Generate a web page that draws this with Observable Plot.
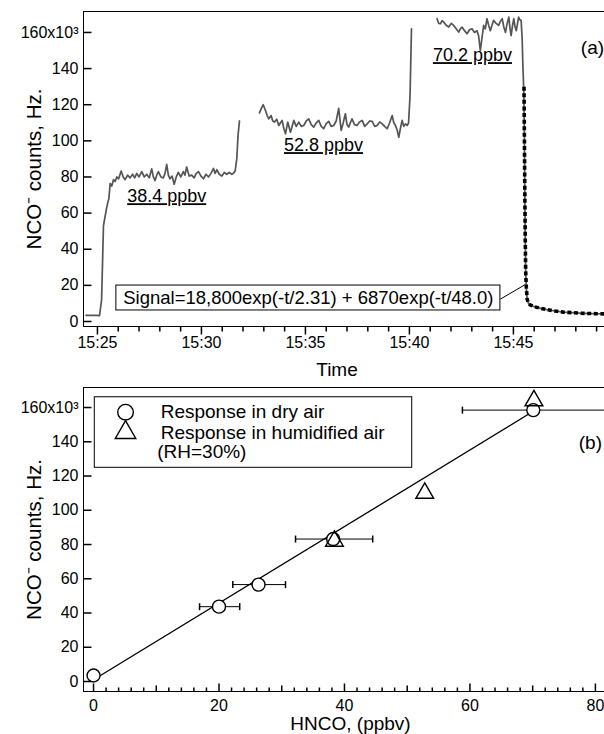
<!DOCTYPE html>
<html><head><meta charset="utf-8">
<script src="https://cdn.jsdelivr.net/npm/d3@7"></script>
<script src="https://cdn.jsdelivr.net/npm/@observablehq/plot@0.6"></script>
<style>
body{margin:0;background:#fff;}
#chart svg{display:block;}
</style></head><body><div id="chart"></div>
<script>
// ---------- Panel (a): NCO- signal vs time (minutes past 15:00) ----------
const seg1Time = [24.45,24.7,24.95,25.1,25.2,25.29,25.42,25.5,25.55,25.61,25.69,25.77,25.85,25.93,26.02,26.14,26.24,26.33,26.45,26.57,26.69,26.79,26.89,27.0,27.13,27.25,27.37,27.49,27.61,27.69,27.77,27.85,27.93,28.05,28.17,28.25,28.33,28.41,28.49,28.59,28.69,28.79,28.89,29.01,29.13,29.21,29.29,29.41,29.53,29.65,29.75,29.86,29.98,30.1,30.22,30.34,30.46,30.58,30.66,30.74,30.86,30.98,31.1,31.22,31.34,31.46,31.54,31.62,31.7,31.76,31.83];
const seg1Counts = [3.4,3.4,3.4,3.3,12,53,61.5,66,68,76.4,75,78.5,77.5,80,79,83.3,80,78.5,81,79.5,81.5,79.5,82,80,83,80,81.5,79.5,84.5,80,78,81,83,80,79.5,82,87,81,79,80.5,76,80,82.5,80,83,81,85.5,80.5,81,79.5,82,83,80.5,79,81.5,80,82,84.7,82,84,81.5,80.5,82.5,81.5,82.5,81.5,82,83.3,90,103,111];

const seg2Time = [32.79,32.88,32.97,33.08,33.16,33.24,33.35,33.43,33.51,33.62,33.72,33.8,33.88,33.96,34.04,34.15,34.28,34.36,34.44,34.56,34.68,34.8,34.92,35.04,35.16,35.28,35.4,35.52,35.64,35.76,35.88,36.0,36.12,36.24,36.36,36.48,36.6,36.72,36.82,36.92,37.0,37.08,37.16,37.24,37.36,37.48,37.6,37.73,37.85,37.97,38.09,38.21,38.33,38.45,38.57,38.69,38.81,38.93,39.05,39.17,39.25,39.33,39.41,39.49,39.57,39.65,39.73,39.81,39.89,39.96,40.03,40.1];
const seg2Counts = [115.5,118,120,116.8,114,112.2,114,111,110.4,112,108.5,110,111.3,107,103.9,110.4,104.8,108,111.3,108,110.4,108,108.5,111,112.2,109,107.6,110,111.3,108,106.7,109.5,110.8,108,108.5,111,118,105.8,110,115,109,107.6,110,112.2,109,108.5,110.5,111.3,108,109.4,111,110.8,108,108.5,110.5,109.4,108,106.7,110,114,110,108.5,106,102,107,111.3,108,109.4,108.5,110,125,162];

const seg3Time = [41.33,41.41,41.49,41.57,41.65,41.77,41.89,42.01,42.13,42.25,42.37,42.45,42.53,42.65,42.77,42.89,43.01,43.13,43.25,43.33,43.41,43.49,43.57,43.65,43.73,43.81,43.89,43.97,44.05,44.17,44.29,44.37,44.46,44.54,44.62,44.7,44.78,44.84,44.89,44.96,45.02,45.08,45.14,45.2,45.25,45.31,45.37,45.42,45.46,45.5,45.53,45.55,45.57,45.59,45.62,45.66,45.72,45.8,46.0,46.3,46.6,47.0,47.4,47.8,48.2,48.7,49.0,49.38];
const seg3Counts = [167.6,165,164.8,166.5,165.7,164,163,165,163.9,162,160.2,162,163,161,159.3,161.5,162,160,161,158,150,157,163.9,162,167.6,164,161,164,166.7,165,163.9,166,167.6,163,160,165,168.5,162,158.2,164,167.6,163,161,165,168.5,167,166.7,157,140,128,100,70,45,28,19,12.5,10.2,9.2,8.2,7.3,6.6,5.8,5.2,4.9,4.6,4.4,4.3,4.2];

// bi-exponential fit of the decay
const fitTime = [45.51,45.53,45.55,45.57,45.59,45.62,45.66,45.72,45.8,46.0,46.3,46.6,47.0,47.4,47.8,48.2,48.7,49.0,49.38];
const fitCounts = [130,100,70,45,28,19,12.5,10.2,9.2,8.2,7.3,6.6,5.8,5.2,4.9,4.6,4.4,4.3,4.2];

const ppbvLabels = ["38.4 ppbv","52.8 ppbv","70.2 ppbv"];
const ppbvLabelTime = [28.33,35.87,43.03];
const ppbvLabelCounts = [69.2,97.5,147.3];

const fitEquation = "Signal=18,800exp(-t/2.31) + 6870exp(-t/48.0)";

const timeTicks = [25,30,35,40,45];
const timeMinorTicks = [26,27,28,29,31,32,33,34,36,37,38,39,41,42,43,44,46,47,48,49];
const countTicks = [0,20,40,60,80,100,120,140,160];
const timeDomain = [24.33,49.38];
const countDomainTop = [-2.77,171.6];

// ---------- Panel (b): calibration ----------
const dryHNCO = [0,20,26.3,38.2,70.1];
const dryCounts = [3.5,43.7,56.6,83.2,158.5];
const dryErrLow = [null,16.9,22.2,32.2,58.8];
const dryErrHigh = [null,23.3,30.6,44.5,81.6];
const humidHNCO = [38.4,52.8,70.2];
const humidCounts = [82,110,164];
const fitHNCO = [0,70.1];
const fitResponse = [1,157.8];
const legendLabels = ["Response in dry air","Response in humidified air","(RH=30%)"];

const hncoTicks = [0,20,40,60,80];
const hncoMidTicks = [10,30,50,70];
const hncoMinorTicks = [2,4,6,8,12,14,16,18,22,24,26,28,32,34,36,38,42,44,46,48,52,54,56,58,62,64,66,68,72,74,76,78];
const hncoDomain = [-1.6,81.45];
const countDomainBottom = [-5.84,171.7];

// ---------- helpers ----------
const FONT = "'Liberation Sans', Arial, Helvetica, sans-serif";
const tickMark = (dx, dy) => ({draw(ctx){ ctx.moveTo(0,0); ctx.lineTo(dx,dy); }});
const capMark = {draw(ctx){ ctx.moveTo(0,-3.5); ctx.lineTo(0,3.5); }};
const countFmt = d => d === 160 ? "160x10³" : String(d);
const zipXY = (xs, ys) => xs.slice(0, Math.min(xs.length, ys.length)).map((x,i) => ({x, y: ys[i]}));

const segments = [zipXY(seg1Time, seg1Counts), zipXY(seg2Time, seg2Counts), zipXY(seg3Time, seg3Counts)];
const fitCurve = zipXY(fitTime, fitCounts);
const ppbv = ppbvLabels.map((t,i) => ({t, x: ppbvLabelTime[i], y: ppbvLabelCounts[i]}));

// annotation placement (panel a)
const eqBox = {x1: 25.91, x2: 44.375, y1: 6.1, y2: 19.9, tx: 35.14, ty: 13.0};
const leader = {x1: 44.375, y1: 12.4, x2: 45.58, y2: 20.5};
const axisTitle = {fontSize: 19, textAnchor: "middle", lineAnchor: "middle"};
const yTitle = {fontSize: 20.5, textAnchor: "middle", lineAnchor: "middle", rotate: -90, frameAnchor: "left", dx: -49};

const topPlot = Plot.plot({
  width: 604, height: 380,
  marginTop: 11, marginBottom: 54, marginLeft: 83, marginRight: 0,
  style: {fontFamily: FONT, fontSize: "16px", background: "white", color: "black"},
  x: {domain: timeDomain, label: null},
  y: {domain: countDomainTop, label: null},
  marks: [
    Plot.ruleY([countDomainTop[1]], {stroke: "black"}),
    Plot.ruleY([countDomainTop[0]], {stroke: "black"}),
    Plot.ruleX([timeDomain[0]], {stroke: "black"}),
    Plot.dot(timeTicks, {x: d => d, y: countDomainTop[0], symbol: tickMark(0, 8), fill: "none", stroke: "black"}),
    Plot.dot(timeMinorTicks, {x: d => d, y: countDomainTop[0], symbol: tickMark(0, 5), fill: "none", stroke: "black"}),
    Plot.dot(countTicks, {x: timeDomain[0], y: d => d, symbol: tickMark(8, 0), fill: "none", stroke: "black"}),
    Plot.axisX({ticks: timeTicks, tickSize: 0, tickPadding: 10, tickFormat: d => `15:${d}`, label: null}),
    Plot.axisY({ticks: countTicks, tickSize: 0, tickPadding: 5, tickFormat: countFmt, label: null}),
    Plot.rect([eqBox], {x1: "x1", x2: "x2", y1: "y1", y2: "y2", fill: "white", stroke: "black", strokeWidth: 1}),
    Plot.text([fitEquation], {x: eqBox.tx, y: eqBox.ty, text: d => d, fontSize: 18.5}),
    Plot.link([leader], {x1: "x1", y1: "y1", x2: "x2", y2: "y2", stroke: "black", strokeWidth: 1}),
    ...segments.map(s => Plot.line(s, {x: "x", y: "y", stroke: "#555", strokeWidth: 1.7})),
    Plot.line(fitCurve, {x: "x", y: "y", stroke: "black", strokeWidth: 3.6, strokeDasharray: "4,2.6", strokeLinecap: "butt", strokeLinejoin: "miter"}),
    Plot.text(ppbv, {x: "x", y: "y", text: "t", fontSize: 18}),
    Plot.text(["(a)"], {x: 48.8, y: 151.2, text: d => d, fontSize: 19}),
    Plot.text(["NCO⁻ counts, Hz."], yTitle),
    Plot.text(["Time"], {frameAnchor: "bottom", dx: -7, dy: 43.5, ...axisTitle})
  ]
});

// ---------- Panel (b) ----------
const dry = dryHNCO.map((x,i) => ({x, y: dryCounts[i], lo: dryErrLow[i], hi: dryErrHigh[i]}));
const dryErr = dry.filter(d => d.lo != null);
const humid = humidHNCO.map((x,i) => ({x, y: humidCounts[i]}));
const fitLine = zipXY(fitHNCO, fitResponse);

// legend placement (panel b)
const legendBox = {x1: 0.2, x2: 50.8, y1: 124.8, y2: 166};
const legendSymX = 5.1, legendTextX = [10.7, 10.7, 10.15], legendRowY = [157.3, 145.4, 133.9];
const legendRows = legendLabels.map((t,i) => ({t, x: legendTextX[i], y: legendRowY[i]}));

const bottomPlot = Plot.plot({
  width: 604, height: 354,
  marginTop: 7, marginBottom: 43, marginLeft: 83, marginRight: 0,
  style: {fontFamily: FONT, fontSize: "16px", background: "white", color: "black"},
  x: {domain: hncoDomain, label: null},
  y: {domain: countDomainBottom, label: null},
  marks: [
    Plot.ruleY([countDomainBottom[1]], {stroke: "black"}),
    Plot.ruleY([countDomainBottom[0]], {stroke: "black"}),
    Plot.ruleX([hncoDomain[0]], {stroke: "black"}),
    Plot.dot(hncoTicks, {x: d => d, y: countDomainBottom[0], symbol: tickMark(0, -8), fill: "none", stroke: "black"}),
    Plot.dot(hncoMidTicks, {x: d => d, y: countDomainBottom[0], symbol: tickMark(0, -6), fill: "none", stroke: "black"}),
    Plot.dot(hncoMinorTicks, {x: d => d, y: countDomainBottom[0], symbol: tickMark(0, -4), fill: "none", stroke: "black"}),
    Plot.dot(countTicks, {x: hncoDomain[0], y: d => d, symbol: tickMark(8, 0), fill: "none", stroke: "black"}),
    Plot.axisX({ticks: hncoTicks, tickSize: 0, tickPadding: 8, label: null}),
    Plot.axisY({ticks: countTicks, tickSize: 0, tickPadding: 5, tickFormat: countFmt, label: null}),
    Plot.rect([legendBox], {x1: "x1", x2: "x2", y1: "y1", y2: "y2", fill: "white", stroke: "black", strokeWidth: 1}),
    Plot.dot([legendRowY[0]], {x: legendSymX, y: d => d, r: 7.8, fill: "white", stroke: "black", strokeWidth: 1.4}),
    Plot.dot([legendRowY[1]], {x: legendSymX, y: d => d, r: 7.6, symbol: "triangle", fill: "none", stroke: "black", strokeWidth: 1.4}),
    Plot.text(legendRows, {x: "x", y: "y", text: "t", textAnchor: "start", fontSize: 19}),
    Plot.line(fitLine, {x: "x", y: "y", stroke: "black", strokeWidth: 1.3}),
    Plot.ruleY(dryErr, {x1: "lo", x2: "hi", y: "y", stroke: "black", strokeWidth: 1}),
    Plot.dot(dryErr, {x: "lo", y: "y", symbol: capMark, fill: "none", stroke: "black"}),
    Plot.dot(dryErr, {x: "hi", y: "y", symbol: capMark, fill: "none", stroke: "black"}),
    Plot.dot(dry, {x: "x", y: "y", r: 6.5, fill: "white", stroke: "black", strokeWidth: 1.4}),
    Plot.dot(humid, {x: "x", y: "y", r: 6.6, symbol: "triangle", fill: "none", stroke: "black", strokeWidth: 1.4}),
    Plot.text(["(b)"], {x: 79.2, y: 139.3, text: d => d, fontSize: 19}),
    Plot.text(["NCO⁻ counts, Hz."], yTitle),
    Plot.text(["HNCO, (ppbv)"], {frameAnchor: "bottom", dx: 6.5, dy: 32.5, ...axisTitle})
  ]
});

const chart = document.getElementById("chart");
chart.appendChild(topPlot);
chart.appendChild(bottomPlot);
d3.select(topPlot).selectAll("text")
  .filter(function(){ return /ppbv$/.test(this.textContent); })
  .style("text-decoration", "underline");
</script></body></html>
